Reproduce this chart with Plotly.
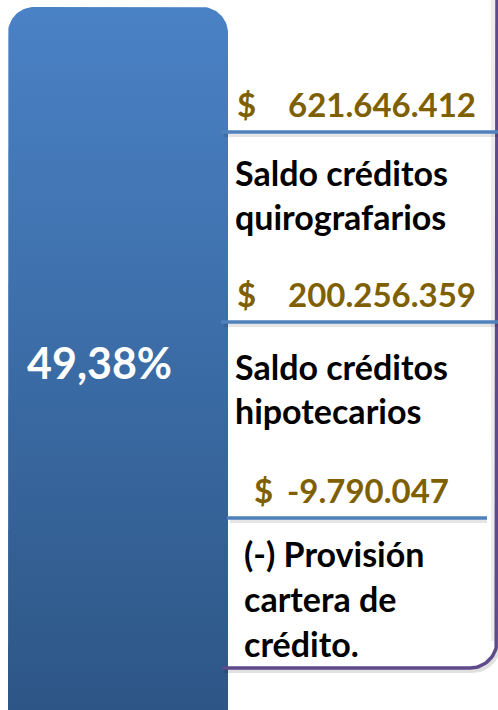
import numpy as np
import plotly.graph_objects as go

# ---- data ----
share_label = ["49,38%"]
amounts = [621646412, 200256359, -9790047]
amount_labels = ["621.646.412", "200.256.359", "-9.790.047"]
categories = [
    ["Saldo créditos", "quirografarios"],
    ["Saldo créditos", "hipotecarios"],
    ["(-) Provisión", "cartera de", "crédito."],
]

W, H = 498, 710
GOLD = "#7F6000"
BLUE_LINE = "#4F81BD"
PURPLE = "#5F4A8B"
FONT = "Lato"

fig = go.Figure()

# rounded blue panel with vertical gradient
def rounded_top_rect(x0, x1, y0, y1, r, n=20):
    xs, ys = [x0], [y1]
    a = np.linspace(np.pi, 1.5 * np.pi, n)
    xs += list(x0 + r + r * np.cos(a)); ys += list(y0 + r + r * np.sin(a))
    a = np.linspace(1.5 * np.pi, 2 * np.pi, n)
    xs += list(x1 - r + r * np.cos(a)); ys += list(y0 + r + r * np.sin(a))
    xs += [x1, x0]; ys += [y1, y1]
    return xs, ys

bx, by = rounded_top_rect(8, 228, 7, 715, 26)
fig.add_trace(go.Scatter(
    x=bx, y=by, mode="lines", fill="toself", line=dict(width=0),
    fillgradient=dict(type="vertical", start=7, stop=710,
                      colorscale=[[0, "#4A82C6"], [1, "#2D5686"]]),
    hoverinfo="skip", showlegend=False))

# right frame with rounded bottom-right corner
r = 27
a = np.linspace(0, 0.5 * np.pi, 20)
fx = [497, 497] + list(497 - r + r * np.cos(a)) + [222]
fy = [0, 668 - r] + list(668 - r + r * np.sin(a)) + [668]
# soft shadow
fig.add_trace(go.Scatter(x=[v - 3 for v in fx[:2]], y=fy[:2], mode="lines",
                         line=dict(color="rgba(0,0,0,0.07)", width=6),
                         hoverinfo="skip", showlegend=False))
fig.add_trace(go.Scatter(x=[v + 2 for v in fx], y=[v + 3 for v in fy], mode="lines",
                         line=dict(color="rgba(0,0,0,0.12)", width=4),
                         hoverinfo="skip", showlegend=False))
fig.add_trace(go.Scatter(x=fx, y=fy, mode="lines",
                         line=dict(color=PURPLE, width=3.5),
                         hoverinfo="skip", showlegend=False))

# separators under amounts
sep_y = [132, 322, 518]
sep_x = [(221, 498), (221, 498), (227, 487)]
for (xa, xb), yv in zip(sep_x, sep_y):
    fig.add_trace(go.Scatter(x=[xa + 3, xb], y=[yv + 3, yv + 3], mode="lines",
                             line=dict(color="rgba(0,0,0,0.10)", width=4),
                             hoverinfo="skip", showlegend=False))
    fig.add_trace(go.Scatter(x=[xa, xb], y=[yv, yv], mode="lines",
                             line=dict(color=BLUE_LINE, width=3.5),
                             hoverinfo="skip", showlegend=False))

ann = []
# percentage
ann.append(dict(x=99, y=362, text=share_label[0], showarrow=False,
                xanchor="center", yanchor="middle",
                font=dict(family=FONT, size=43, color="white", weight="bold")))

amount_y = [104, 294, 490]
dollar_x = [235, 235, 252]
num_right = [478, 478, 451]
for lab, yv, dx, nr in zip(amount_labels, amount_y, dollar_x, num_right):
    ann.append(dict(x=dx, y=yv, text="$", showarrow=False, xanchor="left",
                    yanchor="middle",
                    font=dict(family=FONT, size=33, color=GOLD, weight="bold")))
    ann.append(dict(x=nr, y=yv, text=lab, showarrow=False, xanchor="right",
                    yanchor="middle",
                    font=dict(family=FONT, size=33, color=GOLD, weight="bold")))

label_y = [[172, 216], [366, 410], [553, 598, 643]]
label_x = [233, 233, 242]
for lines, ys, lx in zip(categories, label_y, label_x):
    for t, yv in zip(lines, ys):
        ann.append(dict(x=lx, y=yv, text=t, showarrow=False, xanchor="left",
                        yanchor="middle",
                        font=dict(family=FONT, size=34, color="black", weight="bold")))

fig.update_layout(
    width=W, height=H, margin=dict(l=0, r=0, t=0, b=0),
    paper_bgcolor="white", plot_bgcolor="white",
    xaxis=dict(range=[0, W], visible=False, fixedrange=True),
    yaxis=dict(range=[H, 0], visible=False, fixedrange=True),
    annotations=ann, showlegend=False,
)

fig.write_html("out.html", config={"displayModeBar": False},
               post_script="document.body.style.margin='0';document.body.style.overflow='hidden';")
